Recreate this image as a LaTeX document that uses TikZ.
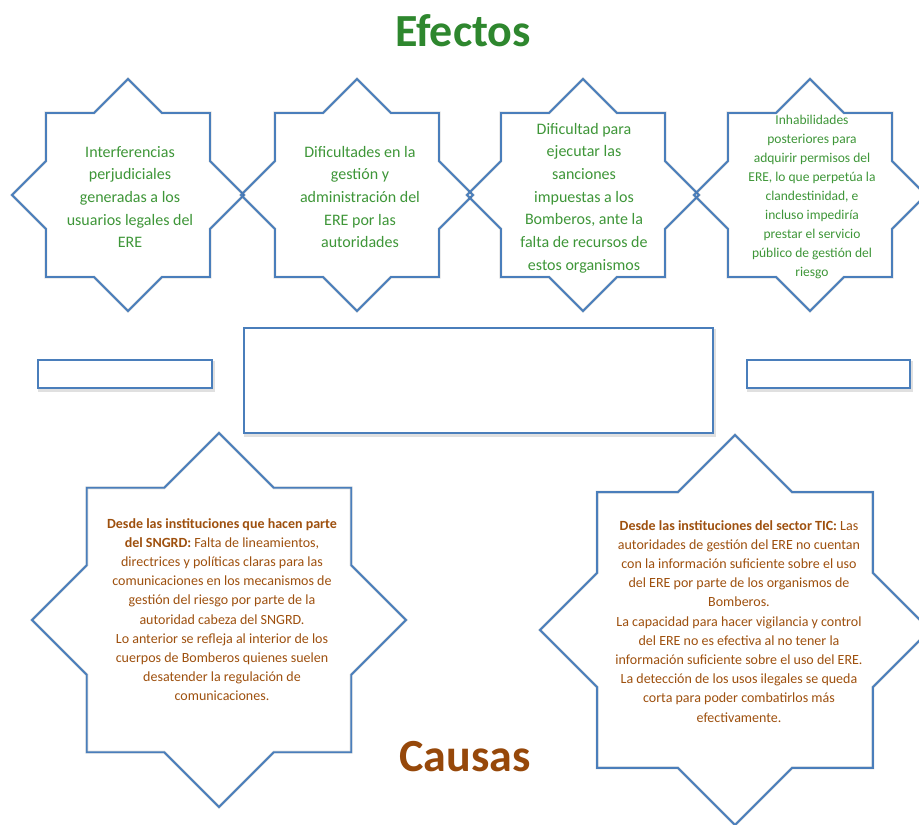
\documentclass[tikz,border=0pt]{standalone}
\usepackage{fontspec}
\setmainfont{Carlito}
\usetikzlibrary{calc}
\definecolor{starblue}{RGB}{74,126,187}
\definecolor{titlegreen}{RGB}{46,135,46}
\definecolor{effgreen}{RGB}{62,150,56}
\definecolor{titlebrown}{RGB}{150,72,10}
\definecolor{causebrown}{RGB}{158,80,14}
\newcommand\octopath[2]{% center, R
  ($(#1)+(90:#2)$)
  \foreach \aa/\rr in {112.5/0.7654,135/1,157.5/0.7654,180/1,202.5/0.7654,225/1,247.5/0.7654,270/1,292.5/0.7654,315/1,337.5/0.7654,360/1,22.5/0.7654,45/1,67.5/0.7654}
  { -- ($(#1)+(\aa:{\rr*#2})$) } -- cycle}
\newcommand\octostar[4]{% name, x, y, R
  \coordinate (#1) at (#2,#3);
  \draw[shadowline] \octopath{#1}{#4};
  \draw[starline] \octopath{#1}{#4};}
\begin{document}
\begin{tikzpicture}[x=1pt,y=-1pt,
  starline/.style={draw=starblue, line width=1.8pt, line join=miter},
  shadowline/.style={draw=black, opacity=0.12, line width=3pt, shift={(1.5,2.5)}},
  boxline/.style={draw=starblue, line width=1.8pt},
  efftext/.style={text=effgreen, align=center, inner sep=0pt, font=\fontsize{16}{22.7}\selectfont},
  efftextsmall/.style={text=effgreen, align=center, inner sep=0pt, font=\fontsize{13.5}{19.1}\selectfont},
  causetext/.style={text=causebrown, align=center, inner sep=0pt, anchor=north, font=\fontsize{14}{19.2}\selectfont},
  titlestyle/.style={inner sep=0pt, font=\fontsize{46}{52}\selectfont\bfseries}]
\useasboundingbox (0,0) rectangle (919,825);
\clip (0,0) rectangle (919,825);
\fill[white] (0,0) rectangle (919,825);

% titles
\node[titlestyle, text=titlegreen] (efectos) at (463,31) {Efectos};
\node[titlestyle, text=titlebrown] (causas) at (465,757) {Causas};

% top stars (effects)
\octostar{s1}{128}{195}{116}
\octostar{s2}{357}{195}{116}
\octostar{s3}{583}{195}{116}
\octostar{s4}{810}{195}{116}

\node[efftext] (t1) at (130,197) {Interferencias\\perjudiciales\\generadas a los\\usuarios legales del\\ERE};
\node[efftext] (t2) at (360,197) {Dificultades en la\\gestión y\\administración del\\ERE por las\\autoridades};
\node[efftext] (t3) at (584,198) {Dificultad para\\ejecutar las\\sanciones\\impuestas a los\\Bomberos, ante la\\falta de recursos de\\estos organismos};
\node[efftextsmall] (t4) at (812,197) {Inhabilidades\\posteriores para\\adquirir permisos del\\ERE, lo que perpetúa la\\clandestinidad, e\\incluso impediría\\prestar el servicio\\público de gestión del\\riesgo};

% middle boxes
\draw[draw=black, opacity=0.12, line width=3pt] (39.5,362.5) rectangle (213.5,390.5);
\draw[draw=black, opacity=0.12, line width=3pt] (245.5,330.5) rectangle (714.5,435.5);
\draw[draw=black, opacity=0.12, line width=3pt] (748.5,362.5) rectangle (911.5,390.5);
\node[boxline, fill=white, minimum width=174pt, minimum height=28pt, inner sep=0pt] (leftbox) at (125,374) {};
\node[boxline, fill=white, minimum width=469pt, minimum height=105pt, inner sep=0pt] (problem) at (478.5,380.5) {};
\node[boxline, fill=white, minimum width=163pt, minimum height=28pt, inner sep=0pt] (rightbox) at (828.5,374) {};

% bottom stars (causes)
\octostar{b1}{219}{620}{187}
\octostar{b2}{735}{630}{195}

\node[causetext] (c1) at (222,518) {\textbf{Desde las instituciones que hacen parte}\\\textbf{del SNGRD:} Falta de lineamientos,\\directrices y políticas claras para las\\comunicaciones en los mecanismos de\\gestión del riesgo por parte de la\\autoridad cabeza del SNGRD.\\Lo anterior se refleja al interior de los\\cuerpos de Bomberos quienes suelen\\desatender la regulación de\\comunicaciones.};
\node[causetext] (c2) at (739,520) {\textbf{Desde las instituciones del sector TIC:} Las\\autoridades de gestión del ERE no cuentan\\con la información suficiente sobre el uso\\del ERE por parte de los organismos de\\Bomberos.\\La capacidad para hacer vigilancia y control\\del ERE no es efectiva al no tener la\\información suficiente sobre el uso del ERE.\\La detección de los usos ilegales se queda\\corta para poder combatirlos más\\efectivamente.};
\end{tikzpicture}
\end{document}
